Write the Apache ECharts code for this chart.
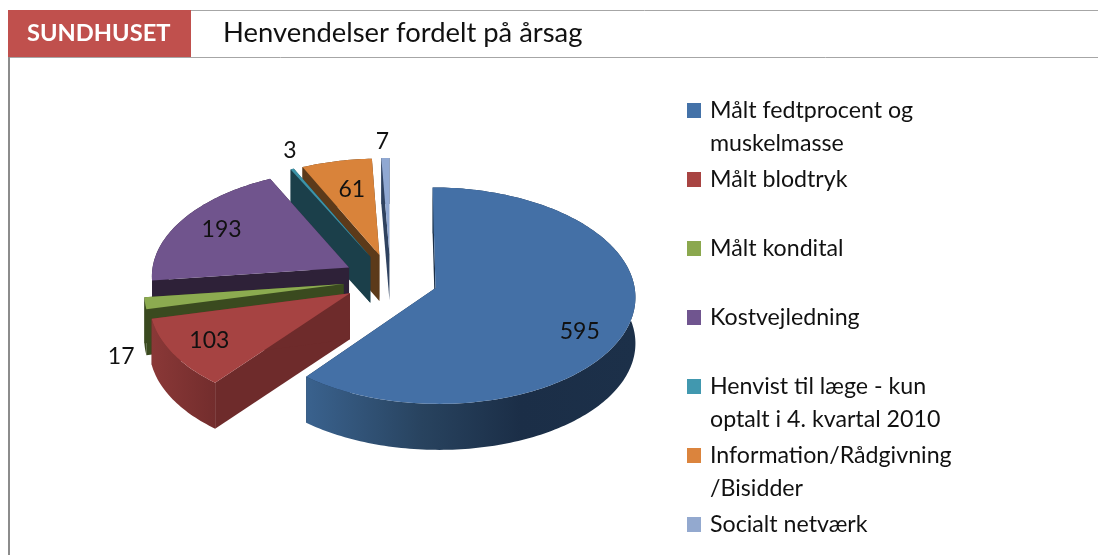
<!DOCTYPE html>
<html><head><meta charset="utf-8">
<style>html,body{margin:0;padding:0;background:#fff}#c{width:1098px;height:555px}</style>
<script src="https://cdn.jsdelivr.net/npm/echarts@6/dist/echarts.min.js"></script>
</head><body><div id="c"></div>
<script>
const badge = 'SUNDHUSET';
const heading = 'Henvendelser fordelt på årsag';
const categories = ['Målt fedtprocent og muskelmasse','Målt blodtryk','Målt kondital','Kostvejledning','Henvist til læge - kun optalt i 4. kvartal 2010','Information/Rådgivning /Bisidder','Socialt netværk'];
const values = [595,103,17,193,3,61,7];
const legendWraps = {'Målt fedtprocent og muskelmasse':['Målt fedtprocent og','muskelmasse'],'Henvist til læge - kun optalt i 4. kvartal 2010':['Henvist til læge - kun','optalt i 4. kvartal 2010'],'Information/Rådgivning /Bisidder':['Information/Rådgivning','/Bisidder']};
const topColors = ['#4470A6','#A64342','#8CAB50','#70548D','#3C93A8','#D9833A','#90A8D2'];
const legendColors = ['#4472A8','#A84442','#8BA84E','#70558F','#4198AF','#DB843D','#93A9CF'];
const faceColors = ['#1B2F47','#6E2B2B','#3A4A1F','#2E2138','#1B3F4A','#5C3A1A','#2F4260'];
const wallStops = [
  [[0,'#3A628E'],[0.35,'#28435F'],[0.65,'#1B2E47'],[1,'#1C3049']],
  [[0,'#8A3837'],[1,'#732D2D']],
  [[0,'#3A4A1F'],[1,'#3A4A1F']],
  [[0,'#2E2138'],[1,'#2E2138']],
  [[0,'#1B3F4A'],[1,'#1B3F4A']],
  [[0,'#5C3A1A'],[1,'#5C3A1A']],
  [[0,'#2F4260'],[1,'#2F4260']]
];
const labelNudges = [[0,16],[-9,3],[-74,58],[-2,-1],[-21,-39],[5,6],[-4,-39]];
const CX=390.5, CY=279.5, RX=198, RY=106.5, PERSP=0.07, EXPLODE=0.24, DEPTH=46, LABEL_R=0.75;
const total = values.reduce((a,b)=>a+b,0);
const font = 'Lato, "Open Sans", sans-serif';
function proj(U,V){const s=1/(1+PERSP*V);return [CX+RX*U*s, CY-RY*V*s];}
function sliceAngles(i){let a=0;for(let k=0;k<i;k++)a+=values[k];return [a/total*2*Math.PI,(a+values[i])/total*2*Math.PI];}
function makeRender(i){
  return function(){
    const [a0,a1]=sliceAngles(i), mid=(a0+a1)/2;
    const ox=EXPLODE*Math.sin(mid), oy=EXPLODE*Math.cos(mid);
    const at=(ang,r)=>proj(ox+r*Math.sin(ang),oy+r*Math.cos(ang));
    const apex=at(mid,0), arc=[];
    const n=Math.max(4,Math.ceil((a1-a0)/0.02));
    for(let k=0;k<=n;k++)arc.push(at(a0+(a1-a0)*k/n,1));
    const down=p=>[p[0],p[1]+DEPTH];
    const xs=arc.map(p=>p[0]), minX=Math.min(...xs), maxX=Math.max(...xs);
    const wallFill={type:'linear',x:minX,y:0,x2:maxX,y2:0,global:true,colorStops:wallStops[i].map(s=>({offset:s[0],color:s[1]}))};
    const face=e=>({type:'polygon',shape:{points:[apex,e,down(e),down(apex)]},style:{fill:faceColors[i]}});
    const lab=at(mid,LABEL_R);
    return {type:'group',children:[
      face(arc[0]),face(arc[n]),
      {type:'polygon',shape:{points:arc.concat(arc.slice().reverse().map(down))},style:{fill:wallFill}},
      {type:'polygon',shape:{points:[apex].concat(arc)},style:{fill:topColors[i]}},
      {type:'text',style:{text:String(values[i]),x:lab[0]+labelNudges[i][0],y:lab[1]+labelNudges[i][1],align:'center',verticalAlign:'middle',fill:'#111',font:'23px '+font}}
    ]};
  };
}
const drawOrder=[6,5,4,3,2,1,0];
const chart=echarts.init(document.getElementById('c'),null,{renderer:'canvas'});
chart.setOption({
  animation:false,
  backgroundColor:'#fff',
  title:[
    {text:heading,left:223,top:20,padding:0,textStyle:{color:'#111',fontSize:27.4,fontWeight:'normal',fontFamily:font}}
  ],
  legend:{
    orient:'vertical',left:687,top:61,height:620,padding:0,icon:'rect',itemWidth:14,itemHeight:15,itemGap:-30,selectedMode:false,
    data:categories,
    textStyle:{color:'#111',fontSize:23.2,lineHeight:33,fontFamily:font,padding:[0,0,0,4]},
    formatter:name=>{const w=legendWraps[name];return w?' \n'+w[0]+'\n'+w[1]:' \n'+name+'\n ';}
  },
  graphic:[
    {type:'rect',shape:{x:8,y:10,width:183,height:47},style:{fill:'#C0504D'}},
    {type:'text',x:27,y:33,style:{text:badge,fill:'#fff',font:'bold 23.7px '+font,align:'left',verticalAlign:'middle'}},
    {type:'line',shape:{x1:191,y1:10.5,x2:1098,y2:10.5},style:{stroke:'#A6A6A6',lineWidth:1}},
    {type:'line',shape:{x1:8,y1:57.5,x2:1098,y2:57.5},style:{stroke:'#A6A6A6',lineWidth:1}},
    {type:'line',shape:{x1:9,y1:57,x2:9,y2:555},style:{stroke:'#8C8C8C',lineWidth:2}}
  ],
  series:drawOrder.map(i=>({
    type:'custom',name:categories[i],coordinateSystem:'none',silent:true,
    itemStyle:{color:legendColors[i]},data:[values[i]],renderItem:makeRender(i)
  }))
});
</script></body></html>
